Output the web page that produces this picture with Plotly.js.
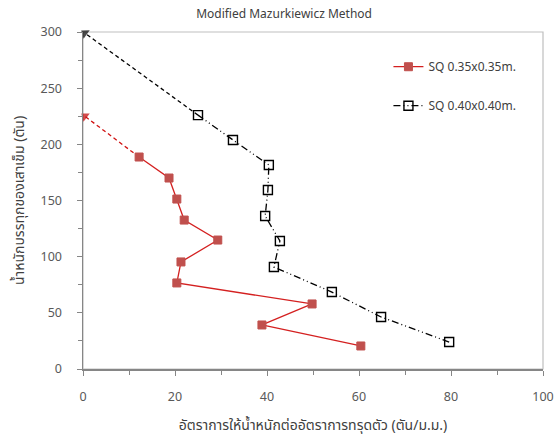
<!DOCTYPE html>
<html>
<head>
<meta charset="utf-8">
<script src="https://cdn.plot.ly/plotly-3.0.1.min.js"></script>
<style>html,body{margin:0;padding:0;background:#fff;}#chart{width:557px;height:439px;}</style>
</head>
<body>
<div id="chart"></div>
<script>
// Data
const redName = "SQ 0.35x0.35m.";
const redX = [60.4, 38.9, 49.8, 20.4, 21.3, 29.3, 22.0, 20.4, 18.7, 12.2];
const redY = [20.5, 39.2, 57.9, 76.6, 95.3, 114.8, 132.6, 151.3, 170.0, 188.7];
const redExtX = [12.2, 0.4];
const redExtY = [188.7, 225];

const blackName = "SQ 0.40x0.40m.";
const blackX = [79.6, 64.8, 54.1, 41.5, 42.8, 39.6, 40.2, 40.4, 32.6, 25.0];
const blackY = [24.0, 46.3, 68.5, 90.8, 114.0, 136.2, 159.3, 181.6, 203.9, 226.0];
const blackExtX = [25.0, 0.4];
const blackExtY = [226.0, 299];

const xTicks = [0, 20, 40, 60, 80, 100];
const yTicks = [0, 50, 100, 150, 200, 250, 300];

const FONT = "Tahoma, 'Noto Sans Thai', 'Noto Sans', 'DejaVu Sans', sans-serif";

const traces = [
  {x: redExtX, y: redExtY, mode: 'lines+markers', showlegend: false, hoverinfo: 'skip', cliponaxis: false,
   line: {color: '#d01010', width: 1.3, dash: '4px,3px'},
   marker: {symbol: 'triangle-up', size: [0, 9], color: '#c00000', angleref: 'previous', line: {width: 0}}},
  {x: blackExtX, y: blackExtY, mode: 'lines+markers', showlegend: false, hoverinfo: 'skip', cliponaxis: false,
   line: {color: '#000000', width: 1.3, dash: '4px,3px'},
   marker: {symbol: 'triangle-up', size: [0, 9], color: '#000000', angleref: 'previous', line: {width: 0}}},
  {x: redX, y: redY, name: redName, mode: 'lines+markers', legendgroup: 'a',
   line: {color: '#d42020', width: 1.3},
   marker: {symbol: 'square', size: 8, color: '#c0504d', line: {color: '#c0504d', width: 1}}},
  {x: blackX, y: blackY, name: blackName, mode: 'lines+markers', legendgroup: 'b',
   line: {color: '#000000', width: 1.3, dash: '7px,3px,1px,3px,1px,3px'},
   marker: {symbol: 'square-open', size: 9, color: '#000000', line: {width: 1.4}}}
];

const layout = {
  width: 557, height: 439,
  margin: {l: 83, r: 14, t: 32, b: 70},
  paper_bgcolor: '#ffffff', plot_bgcolor: '#ffffff',
  font: {family: FONT, size: 12, color: '#595959'},
  title: {text: 'Modified Mazurkiewicz Method', font: {size: 12, color: '#404040'}, x: 0.51, xanchor: 'center', y: 0.968, yanchor: 'middle'},
  xaxis: {range: [0, 100], tickvals: xTicks, ticktext: xTicks.map(String), showgrid: false, zeroline: false,
    showline: true, linecolor: '#868686', linewidth: 1.5, ticks: 'outside', ticklen: 5, tickcolor: '#868686',
    minor: {dtick: 10, ticks: 'outside', ticklen: 4, tickcolor: '#868686'},
    ticklabelstandoff: 10,
    tickfont: {size: 12.5, color: '#595959'},
    title: {text: 'อัตราการให้น้ำหนักต่ออัตราการทรุดตัว (ตัน/ม.ม.)', font: {size: 14, color: '#404040'}, standoff: 14}},
  yaxis: {range: [0, 300], tickvals: yTicks, ticktext: yTicks.map(String), showgrid: false, zeroline: false,
    showline: true, linecolor: '#868686', linewidth: 1.5, ticks: 'outside', ticklen: 5, tickcolor: '#868686',
    minor: {dtick: 25, ticks: 'outside', ticklen: 4, tickcolor: '#868686'},
    ticklabelstandoff: 12,
    tickfont: {size: 12.5, color: '#595959'},
    title: {text: 'น้ำหนักบรรทุกของเสาเข็ม (ตัน)', font: {size: 14, color: '#404040'}, standoff: 12}},
  shapes: [{type: 'rect', xref: 'paper', yref: 'paper', x0: 0, x1: 1, y0: 0, y1: 1,
    line: {color: '#bfbfbf', width: 1.2}, layer: 'below'}],
  legend: {x: 0.664, y: 0.94, xanchor: 'left', yanchor: 'top', bgcolor: 'rgba(0,0,0,0)',
    traceorder: 'grouped', tracegroupgap: 20, font: {size: 12, color: '#404040'}},
};

Plotly.newPlot('chart', traces, layout, {displayModeBar: false, staticPlot: true});
</script>
</body>
</html>
